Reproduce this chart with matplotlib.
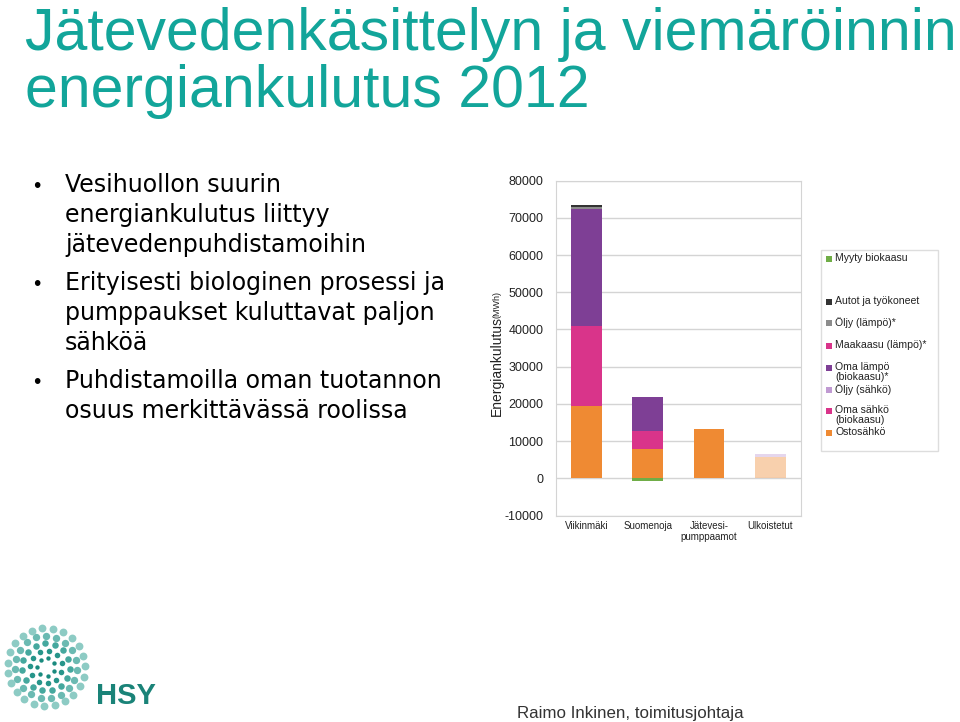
import numpy as np
import matplotlib
matplotlib.use("Agg")
import matplotlib.pyplot as plt
from matplotlib.colors import to_rgba
from matplotlib.patches import Rectangle

# chart data (MWh, 2012)
categories = ["Viikinmäki", "Suomenoja", "Jätevesi-\npumppaamot", "Ulkoistetut"]
ostosahko = [19500, 7900, 13200, 5700]
oma_sahko = [21400, 4900, 0, 0]
oljy_sahko = [0, 0, 0, 800]
oma_lampo = [31400, 9100, 0, 0]
maakaasu = [0, 0, 0, 0]
oljy_lampo = [550, 0, 0, 0]
autot = [550, 0, 0, 0]
myyty_biokaasu = [0, -800, 0, 0]
bar_alpha = [1.0, 1.0, 1.0, 0.4]

yticks = [-10000, 0, 10000, 20000, 30000, 40000, 50000, 60000, 70000, 80000]

title_lines = ["Jätevedenkäsittelyn ja viemäröinnin", "energiankulutus 2012"]
bullets = [
    ["Vesihuollon suurin", "energiankulutus liittyy", "jätevedenpuhdistamoihin"],
    ["Erityisesti biologinen prosessi ja", "pumppaukset kuluttavat paljon", "sähköä"],
    ["Puhdistamoilla oman tuotannon", "osuus merkittävässä roolissa"],
]

# stacking order bottom -> top
stack = [
    ("Ostosähkö", ostosahko, "#EF8A33"),
    ("Oma sähkö\n(biokaasu)", oma_sahko, "#D9348A"),
    ("Öljy (sähkö)", oljy_sahko, "#C09AD2"),
    ("Oma lämpö\n(biokaasu)*", oma_lampo, "#7E3F95"),
    ("Maakaasu (lämpö)*", maakaasu, "#D9348A"),
    ("Öljy (lämpö)*", oljy_lampo, "#8C8C8C"),
    ("Autot ja työkoneet", autot, "#333333"),
]
W, H = 960, 722
fig = plt.figure(figsize=(9.6, 7.22), dpi=100)


def fx(px):
    return px / W


def fy(py):
    return 1 - py / H


# title: sized so that the first line spans the slide width
teal = "#12A59A"
t1 = fig.text(fx(25), fy(50), title_lines[0], fontsize=40, color=teal,
              family="Liberation Sans", va="baseline")
renderer = fig.canvas.get_renderer()
width = t1.get_window_extent(renderer).width
size = 40 * 932 / width
t1.set_fontsize(size)
fig.text(fx(25), fy(107), title_lines[1], fontsize=size, color=teal,
         family="Liberation Sans", va="baseline")

# bullet list
baseline = 192
for group in bullets:
    fig.text(fx(33), fy(baseline), "•", fontsize=15, family="Liberation Sans",
             va="baseline", color="black")
    for line in group:
        fig.text(fx(65), fy(baseline), line, fontsize=17, family="DejaVu Sans",
                 va="baseline", color="black")
        baseline += 30
    baseline += 8

# bar chart
ax = fig.add_axes([fx(555.7), fy(515.5), fx(801 - 555.7), (515.5 - 180.7) / H])
x = np.arange(len(categories))
bottom = np.zeros(len(categories))
for label, vals, col in stack:
    vals = np.array(vals, dtype=float)
    colors = [to_rgba(col, a) for a in bar_alpha]
    ax.bar(x, vals, 0.5, bottom=bottom, color=colors, linewidth=0)
    bottom += vals
ax.bar(x, myyty_biokaasu, 0.5, color="#70AD47", linewidth=0)

ax.set_xlim(-0.5, 3.5)
ax.set_ylim(-10000, 80000)
ax.set_yticks(yticks)
ax.set_yticklabels([str(t) for t in yticks], fontsize=9, family="Liberation Sans",
                   color="#222222")
ax.set_xticks(x)
ax.set_xticklabels(categories, fontsize=7, family="Liberation Sans", color="#222222",
                   linespacing=1.1)
ax.tick_params(axis="y", length=0, pad=9)
ax.tick_params(axis="x", length=0, pad=4)
ax.yaxis.grid(True, color="#D4D4D4", linewidth=1)
ax.set_axisbelow(True)
for s in ax.spines.values():
    s.set_color("#D4D4D4")

fig.text(fx(497), fy(416), "Energiankulutus", rotation=90, ha="center", va="bottom",
         fontsize=10, family="Liberation Sans", color="#222222")
fig.text(fx(497), fy(318), "(MWh)", rotation=90, ha="center", va="bottom",
         fontsize=6.5, family="Liberation Sans", color="#222222")

# legend drawn by hand to keep the uneven spacing of the original
fig.patches.append(Rectangle((fx(821), fy(451)), fx(938 - 821), (451 - 250) / H,
                             transform=fig.transFigure, facecolor="white",
                             edgecolor="#DDDDDD", linewidth=1))
legend_items = [
    ("Myyty biokaasu", "#70AD47", 259),
    ("Autot ja työkoneet", "#333333", 302),
    ("Öljy (lämpö)*", "#8C8C8C", 323),
    ("Maakaasu (lämpö)*", "#D9348A", 346),
    ("Oma lämpö\n(biokaasu)*", "#7E3F95", 368),
    ("Öljy (sähkö)", "#C09AD2", 390),
    ("Oma sähkö\n(biokaasu)", "#D9348A", 411),
    ("Ostosähkö", "#EF8A33", 433),
]
for label, col, py in legend_items:
    fig.patches.append(Rectangle((fx(826), fy(py + 3)), fx(6), 6 / H,
                                 transform=fig.transFigure, facecolor=col, linewidth=0))
    fig.text(fx(835), fy(py - 6), label, fontsize=7.6, family="Liberation Sans",
             va="top", color="#222222", linespacing=1.05)

# HSY logo: swirl of droplets
lax = fig.add_axes([fx(2), fy(711), fx(88), 88 / H])
lax.set_xlim(-1, 1)
lax.set_ylim(-1, 1)
lax.axis("off")
rings = [(0.20, 7, 10), (0.37, 11, 16), (0.54, 15, 22), (0.71, 19, 28), (0.88, 23, 32)]
shades = ["#1A8A7E", "#27958A", "#45A89E", "#6BBAB2", "#8DCBC4"]
for (r, n, sz), shade in zip(rings, shades):
    ang = np.linspace(0, 2 * np.pi, n, endpoint=False) + r * 2.2
    lax.scatter(r * np.cos(ang), r * np.sin(ang), s=sz, color=shade, linewidths=0)
fig.text(fx(96), fy(704), "HSY", fontsize=21, fontweight="bold", family="Liberation Sans",
         color="#1A8378", va="baseline")

fig.text(fx(517), fy(718), "Raimo Inkinen, toimitusjohtaja", fontsize=12.2,
         family="Liberation Sans", color="#333333", va="baseline")

fig.savefig("out.png", dpi=100)
